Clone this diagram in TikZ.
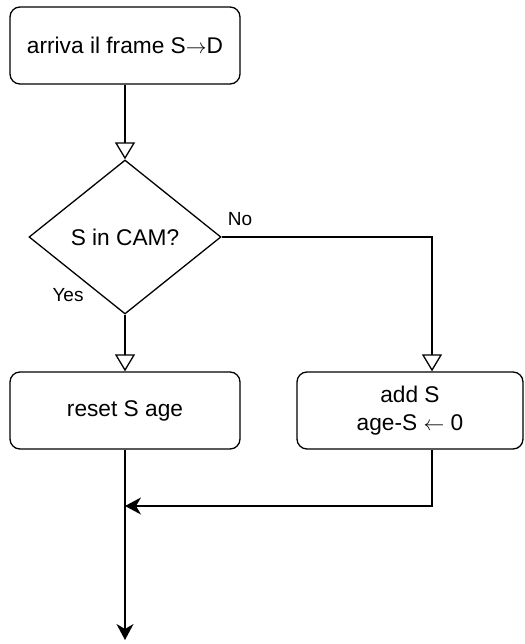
\documentclass[tikz,border=0pt]{standalone}
\usepackage{fontspec}
\setmainfont{Liberation Sans}
\usetikzlibrary{positioning,shapes.geometric,arrows.meta}

\begin{document}
\begin{tikzpicture}[x=1pt,y=-1pt,line width=1.3pt,
  box/.style={draw,rounded corners=10pt,minimum width=230pt,minimum height=77pt,
    align=center,font=\fontsize{22.7}{28}\selectfont},
  decision/.style={draw,diamond,minimum width=192pt,minimum height=154pt,
    inner sep=0pt,font=\fontsize{22.7}{28}\selectfont},
  lbl/.style={font=\fontsize{19}{22}\selectfont},
  opentip/.style={-{Triangle[open,length=17pt,width=20pt]}},
  flow/.style={-{Stealth[length=16pt,width=17pt,inset=5pt]}}]
  \useasboundingbox (0,0) rectangle (524,644);
  % Boxes and decision
  \node[box] (start) at (125,45.5) {arriva il frame S$\rightarrow$D};
  \node[decision] (dec) at (125,237) {S in CAM?};
  \node[box] (reset) at (125,410.5) {reset S age};
  \node[box,minimum width=226pt] (add) at (410,410.5) {add S\\age-S $\leftarrow$ 0};
  \coordinate (addin) at ([xshift=22pt]add.north);
  \coordinate (addout) at ([xshift=22pt]add.south);
  \coordinate (join) at (125,506);
  \coordinate (stop) at (125,640);
  % Branch labels
  \node[lbl] (no) at (240,219) {No};
  \node[lbl] (yes) at (68,295) {Yes};
  % Connectors
  \draw[opentip] (start) -- (dec);
  \draw[opentip] (dec) -- (reset);
  \draw[opentip] (dec.east) -| (addin);
  \draw[flow] (addout) |- (join);
  \draw[flow] (reset.south) -- (stop);
\end{tikzpicture}
\end{document}
